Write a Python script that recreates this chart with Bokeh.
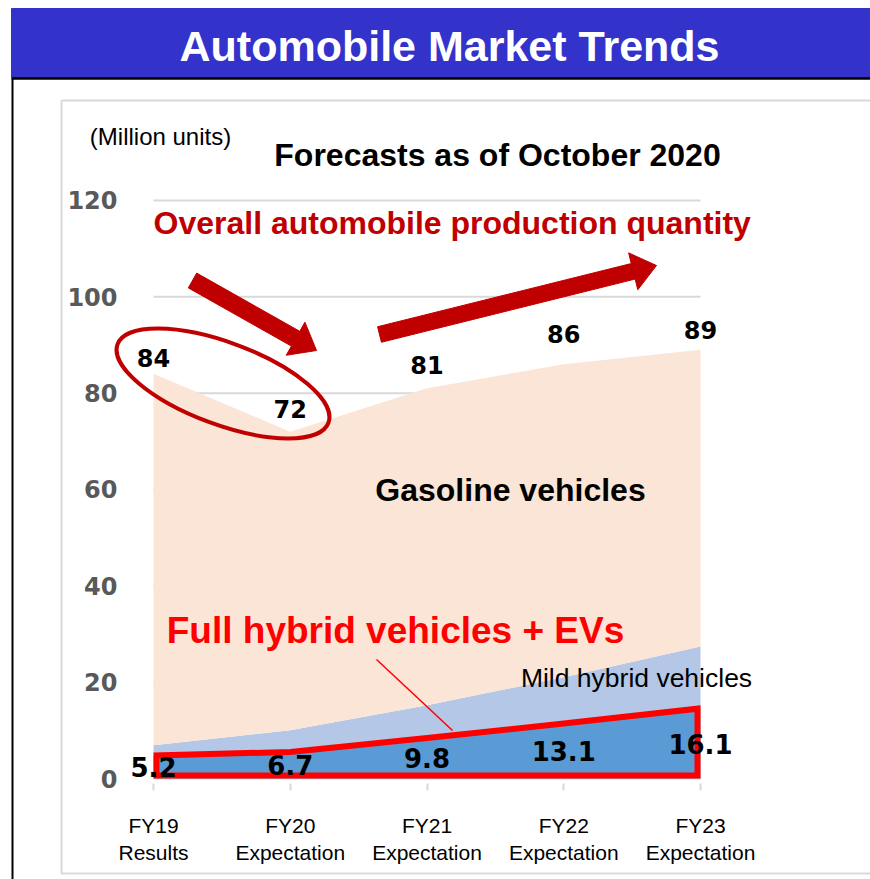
from bokeh.plotting import figure
from bokeh.models import Range1d, LinearAxis, FixedTicker, ColumnDataSource
from bokeh.core.properties import value
from bokeh.embed import file_html
from bokeh.resources import INLINE

# ---------------- data ----------------
categories = ["FY19\nResults", "FY20\nExpectation", "FY21\nExpectation",
              "FY22\nExpectation", "FY23\nExpectation"]
total_units = [84, 72, 81, 86, 89]                 # overall production (million units)
full_hybrid_ev = [4.8, 5.5, 8.4, 11.4, 14.5]      # drawn area height of full hybrid + EVs
mild_hybrid = [2.1, 4.5, 6.8, 9.6, 12.9]          # drawn area height of mild hybrids
full_hybrid_ev_labels = [5.2, 6.7, 9.8, 13.1, 16.1]
total_label_offsets = [-16, -23, -23, -30, -20]    # px, label placement above the area
y_ticks = [0, 20, 40, 60, 80, 100, 120]

gasoline = [t - f - m for t, f, m in zip(total_units, full_hybrid_ev, mild_hybrid)]
xs = list(range(len(categories)))

# ---------------- geometry ----------------
W, H = 870, 879
X0, DX = 153.0, 136.75     # canvas px of first category, px per category
Y0, DY = 778.0, 4.817      # canvas px of value 0, px per unit


def fx(px):
    return (px - X0) / DX


def fy(py):
    return (Y0 - py) / DY


p = figure(width=W, height=H, output_backend="svg", toolbar_location=None,
           x_range=Range1d(-X0 / DX, (W - X0) / DX),
           y_range=Range1d((Y0 - H) / DY, Y0 / DY),
           x_axis_location=None, y_axis_location=None, min_border=0,
           outline_line_color=None, background_fill_color="white",
           border_fill_color="white")
p.grid.visible = False

# header band and frames
p.quad(left=fx(11), right=fx(900), top=fy(8), bottom=fy(77), color="#3333CC")
p.segment(x0=fx(11), x1=fx(900), y0=fy(78), y1=fy(78), line_color="black", line_width=2.5)
p.segment(x0=fx(12), x1=fx(12), y0=fy(78), y1=fy(900), line_color="black", line_width=2)
p.quad(left=fx(61), right=fx(900), top=fy(100), bottom=fy(873), fill_color=None,
       line_color="#D9D9D9", line_width=2)

# gridlines
p.segment(x0=[xs[0]] * len(y_ticks), x1=[xs[-1]] * len(y_ticks), y0=y_ticks, y1=y_ticks,
          line_color="#D9D9D9", line_width=2)

# stacked areas
src = ColumnDataSource(dict(x=xs, fhev=full_hybrid_ev, mild=mild_hybrid, gas=gasoline))
p.varea_stack(["fhev", "mild", "gas"], x="x", color=["#5B9BD5", "#B4C7E7", "#FBE5D6"],
              source=src)

# red outline around full hybrid + EV area (inset by 3px)
ix, iy = 3 / DX, 3 / DY
ox = [xs[0] + ix, xs[0] + ix] + xs[1:-1] + [xs[-1] - ix, xs[-1] - ix]
oy = [iy] + full_hybrid_ev + [iy]
p.patch(ox, oy, fill_color=None, line_color="#FF0000", line_width=6, line_join="miter")

# axes
yaxis = LinearAxis(fixed_location=0, ticker=FixedTicker(ticks=y_ticks),
                   axis_line_color=None, major_tick_line_color=None,
                   minor_tick_line_color=None, major_tick_out=0, major_tick_in=0,
                   major_label_standoff=36,
                   major_label_text_font="DejaVu Sans",
                   major_label_text_font_style="bold",
                   major_label_text_font_size="24px",
                   major_label_text_color="#595959")
p.add_layout(yaxis, "left")

xaxis = LinearAxis(fixed_location=0, ticker=FixedTicker(ticks=xs),
                   major_label_overrides={i: c for i, c in zip(xs, categories)},
                   axis_line_color=None, major_tick_line_color="#D9D9D9",
                   major_tick_line_width=2,
                   minor_tick_line_color=None, major_tick_in=-5, major_tick_out=12,
                   major_label_standoff=23,
                   major_label_text_font="Liberation Sans",
                   major_label_text_font_size="21px",
                   major_label_text_color="black")
p.add_layout(xaxis, "below")

# data labels
p.text(x=xs, y=total_units, text=[str(v) for v in total_units], y_offset=total_label_offsets,
       text_align="center", text_baseline="middle", text_font=value("DejaVu Sans"),
       text_font_style="bold", text_font_size="24px", text_color="black")
p.text(x=xs, y=[v / 2 for v in full_hybrid_ev], text=[f"{v:.1f}" for v in full_hybrid_ev_labels],
       text_align="center", text_baseline="middle", text_font=value("DejaVu Sans"),
       text_font_style="bold", text_font_size="26px", text_color="black")

# annotations
def txt(px, py, s, size, color="black", style="bold", align="center"):
    p.text(x=[fx(px)], y=[fy(py)], text=[s], text_align=align, text_baseline="middle",
           text_font=value("Liberation Sans"), text_font_style=style,
           text_font_size=size, text_color=color)


txt(449, 45, "Automobile Market Trends", "43px", color="white")
txt(160, 136, "(Million units)", "24px", style="normal")
txt(497, 154, "Forecasts as of October 2020", "32px")
txt(153, 222, "Overall automobile production quantity", "32px", color="#C00000", align="left")
txt(510, 489, "Gasoline vehicles", "32px")
txt(395, 630, "Full hybrid vehicles + EVs", "37px", color="#FF0000")
txt(636, 677, "Mild hybrid vehicles", "26.5px", style="normal")

p.line([fx(376), fx(452)], [fy(659), fy(730)], line_color="#FF0000", line_width=1.5)

p.ellipse(x=[fx(222.5)], y=[fy(383)], width=225, height=82, angle=-0.356,
          width_units="screen", height_units="screen", fill_color=None,
          line_color="#C00000", line_width=4)


def arrow(tail, tip, sw, hw, hl):
    (x1, y1), (x2, y2) = tail, tip
    L = ((x2 - x1) ** 2 + (y2 - y1) ** 2) ** 0.5
    ux, uy = (x2 - x1) / L, (y2 - y1) / L
    nx, ny = -uy, ux
    bx, by = x2 - ux * hl, y2 - uy * hl
    pts = [(x1 + nx * sw / 2, y1 + ny * sw / 2), (bx + nx * sw / 2, by + ny * sw / 2),
           (bx + nx * hw / 2, by + ny * hw / 2), (x2, y2),
           (bx - nx * hw / 2, by - ny * hw / 2), (bx - nx * sw / 2, by - ny * sw / 2),
           (x1 - nx * sw / 2, y1 - ny * sw / 2)]
    p.patch([fx(a) for a, b in pts], [fy(b) for a, b in pts], color="#C00000")


arrow((192, 280), (316, 350), 17, 38, 24)
arrow((379, 334), (656, 265), 16, 38, 24)

open("out.html", "w").write(file_html(p, INLINE))
